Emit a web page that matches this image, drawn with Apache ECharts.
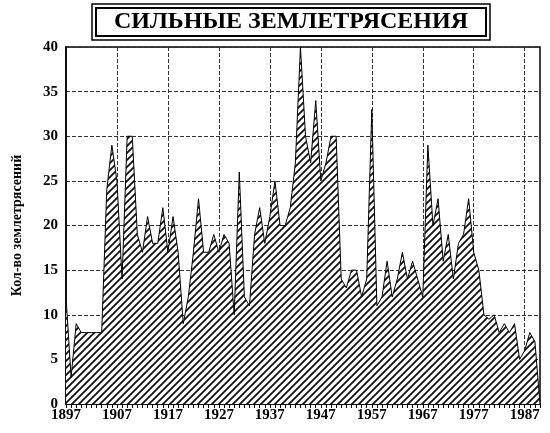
<!DOCTYPE html>
<html><head><meta charset="utf-8">
<script src="https://cdn.jsdelivr.net/npm/echarts@6/dist/echarts.min.js"></script>
<style>body{margin:0;background:#fff}#c{width:550px;height:433px}</style>
</head><body><div id="c"></div>
<script>
var years = [];
for (var y = 1897; y <= 1990; y++) years.push(String(y));
var counts = [
  12, 3, 9, 8, 8, 8, 8, 8, 24, 29,
  25, 14, 30, 30, 19, 17, 21, 18, 18, 22,
  17, 21, 17, 9, 12, 17, 23, 17, 17, 19,
  17, 19, 18, 10, 26, 12, 11, 19, 22, 18,
  21, 25, 20, 20, 22, 27, 40, 30, 27, 34,
  25, 27, 30, 30, 14, 13, 15, 15, 12, 14,
  33, 11, 12, 16, 12, 14, 17, 14, 16, 14,
  12, 29, 20, 23, 16, 19, 14, 18, 19, 23,
  17, 15, 10, 9.5, 10, 8, 9, 8, 9, 5,
  6, 8, 7, 0
];

var pat = document.createElement('canvas');
pat.width = 7; pat.height = 7;
var g = pat.getContext('2d');
g.fillStyle = '#fff'; g.fillRect(0, 0, 7, 7);
g.strokeStyle = '#111'; g.lineWidth = 1.8;
g.beginPath();
g.moveTo(-1, 1); g.lineTo(1, -1);
g.moveTo(0, 7); g.lineTo(7, 0);
g.moveTo(6, 8); g.lineTo(8, 6);
g.stroke();

var chart = echarts.init(document.getElementById('c'));
chart.setOption({
  animation: false,
  graphic: [
    {type: 'rect', shape: {x: 92, y: 4, width: 398, height: 36}, style: {fill: '#fff', stroke: '#000', lineWidth: 1.5}},
    {type: 'rect', shape: {x: 96, y: 8, width: 390, height: 28}, style: {fill: '#fff', stroke: '#000', lineWidth: 2}},
    {type: 'text', x: 291, y: 10, style: {text: 'СИЛЬНЫЕ ЗЕМЛЕТРЯСЕНИЯ', textAlign: 'center', font: 'bold 24px "Liberation Serif"', fill: '#000'}}
  ],
  grid: {left: 66, right: 10, top: 47, bottom: 29, show: true, borderColor: '#000', borderWidth: 1.5},
  xAxis: {
    type: 'category', data: years, boundaryGap: false,
    axisLine: {lineStyle: {color: '#000', width: 1.5}},
    axisTick: {interval: 0, length: 4, lineStyle: {color: '#000'}},
    axisLabel: {interval: 9, color: '#000', fontFamily: 'Liberation Serif', fontWeight: 'bold', fontSize: 15, margin: 4},
    splitLine: {show: true, interval: 9, lineStyle: {color: '#333', type: 'dashed', width: 1}}
  },
  yAxis: {
    type: 'value', min: 0, max: 40, interval: 5,
    name: 'Кол-во землетрясений', nameLocation: 'middle', nameGap: 42, nameRotate: 90,
    nameTextStyle: {color: '#000', fontFamily: 'Liberation Serif', fontWeight: 'bold', fontSize: 14},
    axisLine: {show: true, lineStyle: {color: '#000', width: 1.5}},
    axisTick: {show: false},
    axisLabel: {color: '#000', fontFamily: 'Liberation Serif', fontWeight: 'bold', fontSize: 15, margin: 8},
    splitLine: {lineStyle: {color: '#333', type: 'dashed', width: 1}}
  },
  series: [{
    type: 'line', data: counts, symbol: 'none',
    lineStyle: {color: '#000', width: 1},
    areaStyle: {color: {image: pat, repeat: 'repeat'}, opacity: 1}
  }]
});
</script></body></html>
